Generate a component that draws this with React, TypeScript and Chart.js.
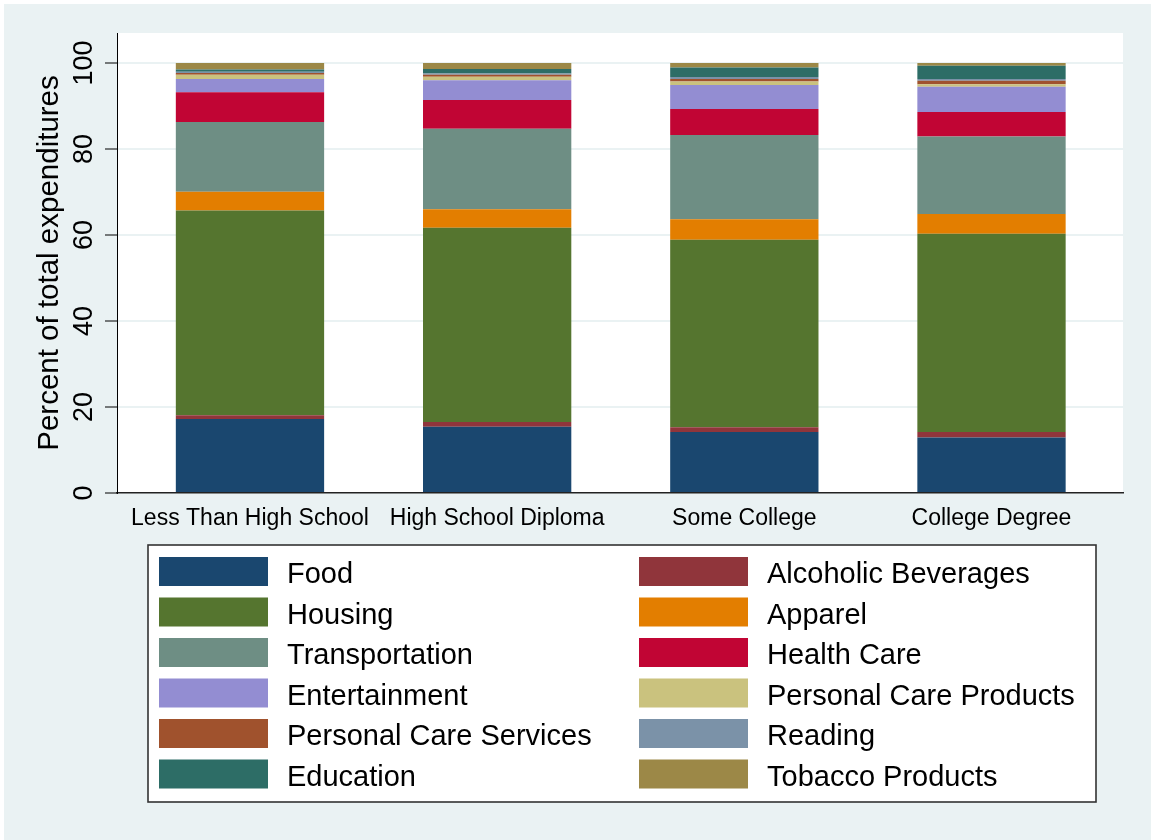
import React, { useEffect, useRef } from "react";
import { Chart, registerables } from "chart.js";

Chart.register(...registerables);

const categories = ["Less Than High School", "High School Diploma", "Some College", "College Degree"];
const food = [17.2, 15.4, 14.2, 12.9];
const alcoholicBeverages = [0.9, 1.1, 1.1, 1.3];
const housing = [47.6, 45.2, 43.6, 46.1];
const apparel = [4.4, 4.3, 4.75, 4.6];
const transportation = [16.2, 18.7, 19.6, 18.05];
const healthCare = [6.9, 6.7, 6.05, 5.65];
const entertainment = [3.1, 4.6, 5.6, 5.9];
const personalCareProducts = [1.0, 0.8, 0.8, 0.6];
const personalCareServices = [0.4, 0.5, 0.6, 0.8];
const reading = [0.3, 0.3, 0.45, 0.4];
const education = [0.5, 1.0, 2.2, 3.1];
const tobaccoProducts = [1.5, 1.4, 1.1, 0.6];
const yTicks = [0, 20, 40, 60, 80, 100];

const seriesLabels = [
  "Food", "Alcoholic Beverages", "Housing", "Apparel", "Transportation", "Health Care",
  "Entertainment", "Personal Care Products", "Personal Care Services", "Reading", "Education", "Tobacco Products",
];
const seriesValues = [
  food, alcoholicBeverages, housing, apparel, transportation, healthCare,
  entertainment, personalCareProducts, personalCareServices, reading, education, tobaccoProducts,
];
const seriesColors = [
  "#1A476F", "#90353B", "#55752F", "#E37E00", "#6E8E84", "#C10534",
  "#938DD2", "#CAC27E", "#A0522D", "#7B92A8", "#2D6D66", "#9C8847",
];

const FONT = "'Liberation Sans', Arial, Helvetica, sans-serif";
const BG = "#EAF2F3";

const backgroundPlugin = {
  id: "stataBackground",
  beforeDraw(chart: any) {
    const { ctx, width, height, chartArea } = chart;
    ctx.save();
    ctx.fillStyle = "#FFFFFF";
    ctx.fillRect(0, 0, width, height);
    ctx.fillStyle = BG;
    ctx.fillRect(4, 4, width - 4, height - 4);
    ctx.fillStyle = "#FFFFFF";
    ctx.fillRect(chartArea.left, chartArea.top, chartArea.right - chartArea.left, chartArea.bottom - chartArea.top);
    ctx.restore();
  },
};

const legendPlugin = {
  id: "stataLegend",
  afterDraw(chart: any) {
    const { ctx } = chart;
    const box = { left: 148, top: 545, right: 1096, bottom: 802 };
    ctx.save();
    ctx.fillStyle = "#FFFFFF";
    ctx.fillRect(box.left, box.top, box.right - box.left, box.bottom - box.top);
    ctx.strokeStyle = "#333333";
    ctx.lineWidth = 1.6;
    ctx.strokeRect(box.left, box.top, box.right - box.left, box.bottom - box.top);
    ctx.font = `29px ${FONT}`;
    ctx.textBaseline = "middle";
    ctx.textAlign = "left";
    chart.data.datasets.forEach((ds: any, i: number) => {
      const col = i % 2;
      const row = Math.floor(i / 2);
      const sx = col === 0 ? 159 : 639;
      const sy = 557 + row * 40.5;
      ctx.fillStyle = ds.backgroundColor;
      ctx.fillRect(sx, sy, 109, 29);
      ctx.fillStyle = "#000000";
      ctx.fillText(ds.label, sx + 128, sy + 18);
    });
    ctx.restore();
  },
};

export default function App() {
  const canvasRef = useRef<HTMLCanvasElement | null>(null);

  useEffect(() => {
    if (!canvasRef.current) return;
    const chart = new Chart(canvasRef.current, {
      type: "bar",
      data: {
        labels: categories.map((_, i) => i),
        datasets: seriesLabels.map((label, i) => ({
          label,
          data: seriesValues[i],
          backgroundColor: seriesColors[i],
          borderWidth: 0,
          categoryPercentage: 1,
          barPercentage: 0.6,
        })),
      },
      options: {
        responsive: false,
        animation: false,
        devicePixelRatio: 1,
        layout: { padding: { left: 4, top: 33, right: 28, bottom: 300 } },
        plugins: {
          legend: { display: false },
          tooltip: { enabled: false },
        },
        scales: {
          x: {
            type: "linear",
            stacked: true,
            offset: false,
            min: -0.538,
            max: 3.532,
            afterBuildTicks: (scale: any) => {
              scale.ticks = categories.map((_, i) => ({ value: i }));
            },
            afterFit: (scale: any) => {
              scale.height = 47;
            },
            grid: { display: false, drawTicks: false, offset: false },
            border: { display: true, color: "#222222", width: 1.5 },
            ticks: {
              autoSkip: false,
              maxRotation: 0,
              minRotation: 0,
              padding: 12,
              color: "#000000",
              font: { size: 23, family: FONT },
              callback: (v: any) => categories[Math.round(Number(v))] ?? "",
            },
          },
          y: {
            type: "linear",
            stacked: true,
            min: 0,
            max: 107,
            afterBuildTicks: (scale: any) => {
              scale.ticks = yTicks.map((v) => ({ value: v }));
            },
            afterFit: (scale: any) => {
              scale.width = 113;
            },
            grid: {
              color: BG,
              lineWidth: 2,
              tickLength: 12,
              tickColor: "#000000",
              tickWidth: 1,
            },
            border: { display: true, color: "#000000", width: 1 },
            ticks: {
              autoSkip: false,
              minRotation: 90,
              maxRotation: 90,
              crossAlign: "center",
              padding: -2,
              color: "#000000",
              font: { size: 27, family: FONT },
            },
            title: {
              display: true,
              text: "Percent of total expenditures",
              color: "#000000",
              font: { size: 29.5, family: FONT },
              padding: { top: 28, bottom: 0 },
            },
          },
        },
      },
      plugins: [backgroundPlugin, legendPlugin],
    } as any);
    return () => chart.destroy();
  }, []);

  return (
    <div style={{ position: "fixed", left: 0, top: 0, width: 1151, height: 840 }}>
      <canvas ref={canvasRef} width={1151} height={840} style={{ display: "block" }} />
    </div>
  );
}
